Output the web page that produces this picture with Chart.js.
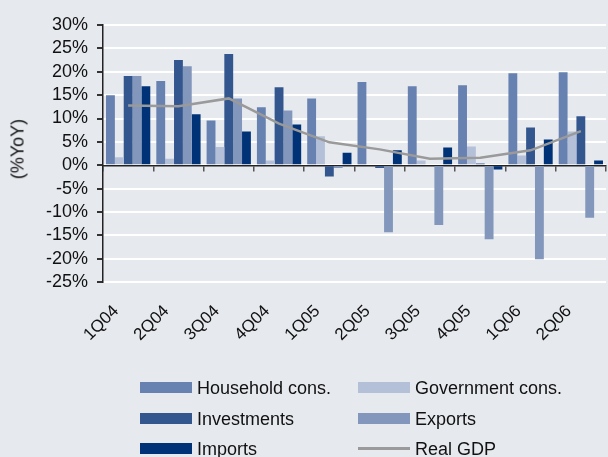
<!DOCTYPE html>
<html>
<head>
<meta charset="utf-8">
<script src="https://cdn.jsdelivr.net/npm/chart.js@4/dist/chart.umd.min.js"></script>
<style>
  html, body { margin: 0; padding: 0; background: #E6E9EE; }
  #wrap { position: relative; width: 608px; height: 457px; background: #E6E9EE; overflow: hidden; }
  canvas { position: absolute; left: 0; top: 0; }
  .lg { position: absolute; font-family: "Liberation Sans", Arial, sans-serif; font-size: 18px; color: #111; line-height: 20px; white-space: nowrap; }
  .bx { position: absolute; width: 52px; height: 11px; }
  .ln { position: absolute; width: 52px; height: 3px; background: #9A9A9A; }
  #ytitle { position: absolute; left: 18px; top: 149px; transform: translate(-50%, -50%) rotate(-90deg); font-family: "Liberation Sans", Arial, sans-serif; font-size: 18px; color: #111; white-space: nowrap; }
</style>
</head>
<body>
<div id="wrap">
  <canvas id="c" width="608" height="457"></canvas>
  <div id="ytitle">(%YoY)</div>
  <div id="legend"></div>
</div>
<script>
const labels = ['1Q04','2Q04','3Q04','4Q04','1Q05','2Q05','3Q05','4Q05','1Q06','2Q06'];
const household   = [15.0, 18.0,  9.6, 12.4, 14.3,  17.8,  16.9,  17.1,  19.7,  19.9];
const government  = [ 1.7,  1.4,  3.9,  1.0,  6.2,   0.0,   1.0,   4.0,   2.1,   7.2];
const investments = [19.1, 22.5, 23.8, 16.7, -2.4,  -0.6,   0.0,   0.4,   8.1,  10.5];
const exportsData = [19.1, 21.2, 14.3, 11.7, -0.6, -14.3, -12.8, -15.8, -20.1, -11.2];
const imports     = [16.9, 10.9,  7.2,  8.7,  2.7,   3.2,   3.8,  -0.9,   5.5,   1.0];
const realGDP     = [12.8, 12.6, 14.3,  8.9,  4.9,   3.4,   1.4,   1.6,   3.2,   7.3];
const yTicksMin = -25, yTicksMax = 30, yStep = 5;

const names = ['Household cons.','Government cons.','Investments','Exports','Imports','Real GDP'];
const colors = ['#6781B1','#B3C0D8','#33568E','#8297BB','#003277','#9A9A9A'];
const barSeries = [household, government, investments, exportsData, imports];

const FONT = '"Liberation Sans", Arial, sans-serif';
const datasets = [{
  type: 'line', label: names[5], data: realGDP, borderColor: colors[5], borderWidth: 2.5,
  pointRadius: 0, tension: 0, fill: false, order: 0
}];
barSeries.forEach((d, i) => datasets.push({
  type: 'bar', label: names[i], data: d, backgroundColor: colors[i], borderWidth: 0,
  categoryPercentage: 0.88, barPercentage: 1.0, order: 1
}));

new Chart(document.getElementById('c'), {
  data: { labels, datasets },
  options: {
    responsive: false, animation: false,
    layout: { padding: { top: 25, right: 2, left: 0, bottom: 101 } },
    plugins: { legend: { display: false }, tooltip: { enabled: false } },
    scales: {
      x: {
        type: 'category', offset: true,
        grid: { display: false }, border: { display: false },
        ticks: { font: { family: FONT, size: 17 }, color: '#111', maxRotation: 45, minRotation: 45, padding: 11, labelOffset: -12, autoSkip: false }
      },
      x2: {
        type: 'category', position: { y: 0 }, offset: true,
        grid: { offset: true, drawOnChartArea: false, drawTicks: true, tickLength: 5, tickColor: '#555', lineWidth: 1.5 },
        border: { display: true, color: '#222', width: 1.5 },
        ticks: { display: false }
      },
      y: {
        min: yTicksMin, max: yTicksMax,
        afterFit: (s) => { s.width = 103; },
        grid: { color: '#FFFFFF', lineWidth: 2, tickColor: '#333', tickLength: 6 },
        border: { display: true, color: '#222', width: 1.5 },
        ticks: { stepSize: yStep, autoSkip: false, font: { family: FONT, size: 18 }, color: '#111', padding: 9, callback: v => v + '%' }
      }
    }
  }
});

// HTML legend (two columns, three rows)
const leg = document.getElementById('legend');
const pos = [[140,382],[358,382],[140,413],[358,413],[140,443],[358,443]];
[0,1,2,3,4,5].forEach((k, idx) => {
  const [x, y] = pos[idx];
  const mark = document.createElement('div');
  if (k === 5) { mark.className = 'ln'; mark.style.left = x + 'px'; mark.style.top = (y + 4) + 'px'; }
  else { mark.className = 'bx'; mark.style.left = x + 'px'; mark.style.top = y + 'px'; mark.style.background = colors[k]; }
  leg.appendChild(mark);
  const t = document.createElement('div');
  t.className = 'lg'; t.textContent = names[k];
  t.style.left = (x + 57) + 'px'; t.style.top = (y - 4) + 'px';
  leg.appendChild(t);
});
</script>
</body>
</html>
